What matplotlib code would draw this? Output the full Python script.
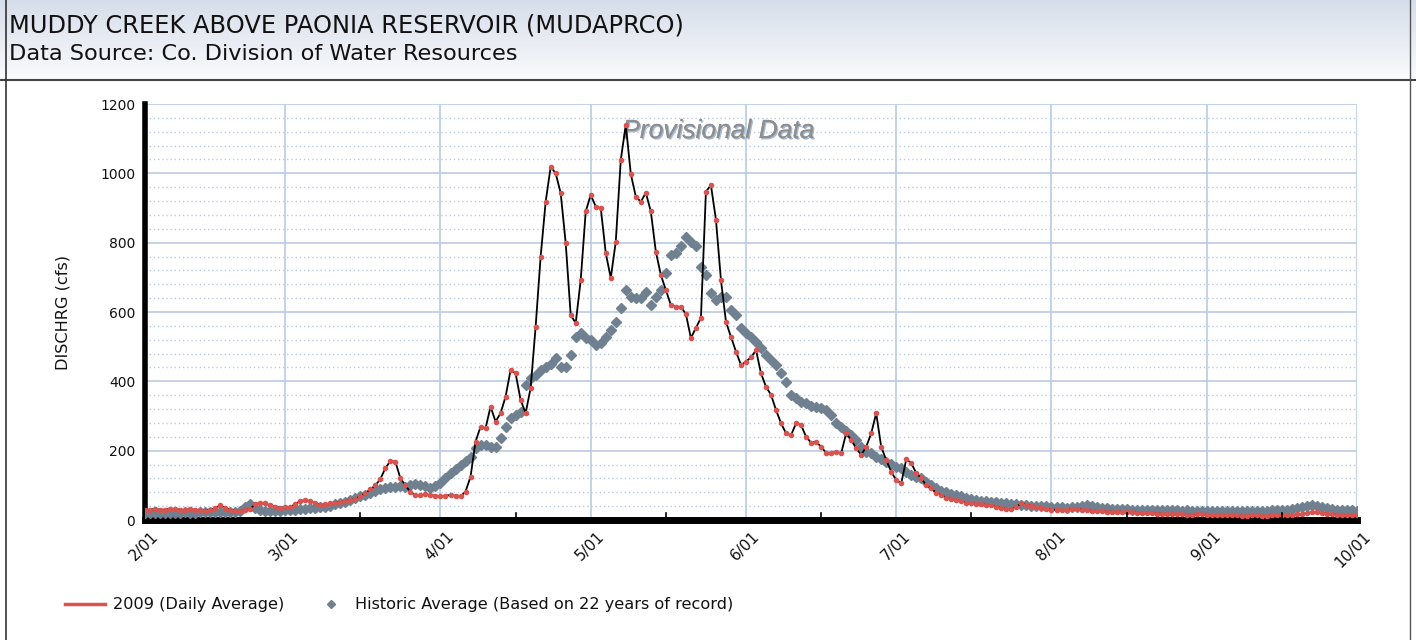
import numpy as np
import matplotlib
matplotlib.use("Agg")
import matplotlib.pyplot as plt
from matplotlib.lines import Line2D
import matplotlib.patheffects as pe

# ---------------- data ----------------
month_labels = ["2/01", "3/01", "4/01", "5/01", "6/01", "7/01", "8/01", "9/01", "10/01"]
month_days = [0, 28, 59, 89, 120, 150, 181, 212, 242]   # day offsets from 2/01
mid_month_days = [43, 74, 104, 135, 165, 196, 227]       # 16th of Mar..Sep

flow_2009_feb = [28, 30, 32, 30, 30, 33, 32, 30, 29, 31, 30, 28, 27, 30, 34, 42, 35, 30, 27, 26,
                 28, 32, 45, 50, 48, 42, 38, 36]
flow_2009_mar = [37, 38, 45, 55, 57, 55, 48, 44, 45, 48, 50, 52, 55, 58, 62, 68, 78, 88, 100, 118,
                 150, 170, 168, 120, 100, 80, 72, 72, 74, 72, 70]
flow_2009_apr = [68, 70, 72, 70, 68, 82, 125, 226, 269, 265, 327, 284, 308, 356, 433, 423, 346, 308,
                 381, 558, 760, 918, 1019, 1000, 943, 799, 591, 568, 692, 890]
flow_2009_may = [938, 904, 900, 770, 698, 803, 1039, 1140, 998, 933, 918, 944, 890, 774, 707, 664,
                 620, 615, 615, 594, 525, 554, 583, 947, 966, 866, 692, 572, 528, 486, 447]
flow_2009_jun = [457, 469, 490, 423, 384, 361, 317, 279, 250, 245, 279, 274, 240, 223, 226, 211,
                 194, 192, 197, 192, 250, 231, 207, 188, 211, 250, 308, 211, 173, 139]
flow_2009_jul = [115, 106, 175, 164, 135, 120, 100, 91, 78, 72, 64, 60, 57, 54, 50, 48, 47, 46, 44,
                 42, 38, 35, 33, 31, 38, 48, 44, 40, 37, 34, 31]
flow_2009_aug = [30, 29, 28, 29, 31, 32, 30, 28, 27, 26, 25, 24, 24, 23, 24, 22, 22, 21, 20, 20,
                 19, 18, 18, 17, 17, 16, 16, 15, 15, 16, 16]
flow_2009_sep = [15, 14, 14, 13, 13, 14, 13, 12, 12, 13, 13, 12, 12, 13, 14, 14, 13, 14, 16, 18,
                 20, 22, 22, 21, 18, 16, 15, 14, 14, 13, 14]

hist_feb = [20, 20, 21, 21, 20, 20, 21, 21, 22, 21, 21, 22, 22, 22, 23, 23, 22, 22, 23, 26,
            38, 45, 35, 28, 27, 27, 26, 27]
hist_mar = [28, 29, 30, 31, 33, 34, 35, 37, 38, 41, 45, 49, 53, 58, 63, 68, 73, 78, 83, 88,
            92, 95, 96, 97, 96, 100, 104, 102, 98, 92, 98]
hist_apr = [106, 120, 135, 148, 159, 171, 183, 207, 216, 215, 212, 210, 236, 269, 293, 303, 312,
            389, 409, 418, 433, 442, 450, 466, 442, 442, 476, 529, 539, 525]
hist_may = [519, 505, 511, 529, 548, 572, 611, 664, 644, 640, 640, 659, 620, 644, 664, 712, 765,
            771, 789, 817, 803, 789, 731, 707, 654, 635, 644, 644, 606, 591, 555]
hist_jun = [539, 529, 514, 495, 476, 462, 447, 423, 399, 361, 351, 341, 337, 329, 327, 322, 317,
            303, 279, 269, 258, 245, 231, 211, 197, 192, 183, 175, 168, 162]
hist_jul = [154, 149, 139, 130, 125, 120, 110, 100, 93, 85, 80, 76, 72, 68, 64, 60, 58, 56, 54,
            53, 51, 50, 48, 47, 45, 43, 42, 41, 40, 40, 39]
hist_aug = [38, 37, 37, 36, 37, 38, 40, 42, 40, 37, 36, 35, 33, 32, 31, 31, 30, 30, 29, 29,
            29, 28, 28, 29, 28, 28, 27, 28, 27, 27, 27]
hist_sep = [27, 27, 26, 27, 26, 26, 27, 26, 26, 27, 26, 27, 27, 28, 28, 29, 30, 32, 35, 38,
            40, 42, 41, 38, 34, 31, 30, 29, 28, 28, 27]

flow_2009 = (flow_2009_feb + flow_2009_mar + flow_2009_apr + flow_2009_may + flow_2009_jun
             + flow_2009_jul + flow_2009_aug + flow_2009_sep)
hist_avg = hist_feb + hist_mar + hist_apr + hist_may + hist_jun + hist_jul + hist_aug + hist_sep
days = np.arange(len(flow_2009))
hdays = np.arange(len(hist_avg))

title = "MUDDY CREEK ABOVE PAONIA RESERVOIR (MUDAPRCO)"
subtitle = "Data Source: Co. Division of Water Resources"
ylabel = "DISCHRG (cfs)"
legend_2009 = "2009 (Daily Average)"
legend_hist = "Historic Average (Based on 22 years of record)"
watermark = "Provisional Data"

# ---------------- figure ----------------
W, H = 1416, 640
fig = plt.figure(figsize=(W / 100, H / 100), dpi=100)
fig.patch.set_facecolor("white")
FONT = "DejaVu Sans"
TXT = "#111111"

# header with gradient
hdr = fig.add_axes([0, 1 - 80 / H, 1, 80 / H])
grad = np.linspace(0, 1, 100).reshape(-1, 1)
top_c = np.array([0.84, 0.87, 0.92])
bot_c = np.array([0.98, 0.985, 0.99])
img = top_c + (bot_c - top_c) * grad[:, :, None] * np.ones((1, 2, 1))
hdr.imshow(img, aspect="auto", extent=[0, 1, 0, 1], origin="upper")
hdr.set_xlim(0, 1); hdr.set_ylim(0, 1)
hdr.axis("off")
hdr.text(9 / W, 1 - 25 / 80, title, fontsize=17.4, family=FONT, color=TXT, va="center", ha="left")
hdr.text(9 / W, 1 - 54 / 80, subtitle, fontsize=16.1, family=FONT, color=TXT, va="center", ha="left")

# borders
fig.add_artist(Line2D([0, 1], [1 - 79.5 / H, 1 - 79.5 / H], color="#444444", lw=1.5))
fig.add_artist(Line2D([6 / W, 6 / W], [0, 1], color="#333333", lw=1.2))
fig.add_artist(Line2D([1410 / W, 1410 / W], [0, 1], color="#555555", lw=1.0))

# main axes
L, R, B, T = 145, 1357, 520, 104
ax = fig.add_axes([L / W, 1 - B / H, (R - L) / W, (B - T) / H])
ax.set_xlim(0, 242)
ax.set_ylim(0, 1200)

grid_c = "#b9cbe3"
ax.set_xticks(month_days)
ax.set_xticklabels([])
ax.set_yticks(np.arange(0, 1201, 200))
ax.set_yticks(np.arange(0, 1201, 40), minor=True)
ax.grid(which="major", axis="both", color=grid_c, lw=1.2, ls="-")
ax.grid(which="minor", axis="y", color=grid_c, lw=1.0, ls=(0, (1, 2)))
ax.set_axisbelow(True)
ax.tick_params(axis="x", which="major", length=0)
ax.tick_params(axis="y", which="both", length=0, labelsize=10, pad=7)
for lab in ax.get_yticklabels():
    lab.set_family(FONT)
    lab.set_color(TXT)

# mid-month tick marks pointing upward
for d in mid_month_days:
    ax.plot([d, d], [0, 20], color="black", lw=1.2, clip_on=False, zorder=5)

for s in ["top", "right"]:
    ax.spines[s].set_visible(False)
ax.spines["left"].set_linewidth(4)
ax.spines["bottom"].set_linewidth(5)
ax.spines["left"].set_color("black")
ax.spines["bottom"].set_color("black")

# data
ax.plot(hdays, hist_avg, ls="none", marker="D", ms=4.6, color="#6f8190", mec="#6f8190", zorder=3)
ax.plot(days, flow_2009, color="black", lw=1.3, zorder=4)
ax.plot(days, flow_2009, ls="none", marker="o", ms=3.0, color="#d9534f", mec="#d9534f", zorder=4.5)

# x tick labels rotated
for d, lab in zip(month_days, month_labels):
    ax.text(d + 1.2, -26, lab, rotation=45, ha="right", va="top", rotation_mode="anchor",
            fontsize=11, family=FONT, color=TXT)

ax.set_ylabel(ylabel, fontsize=11.6, family=FONT, labelpad=21, color=TXT)

# watermark
ax.text(0.473, 0.935, watermark, transform=ax.transAxes, fontsize=19, style="italic",
        family="Liberation Sans", color="#8e8e8e", ha="center", va="center",
        path_effects=[pe.withSimplePatchShadow(offset=(1, -1), shadow_rgbFace="#9fb3d0", alpha=0.9),
                      pe.Normal()])

# legend
ly = 1 - 604 / H
fig.add_artist(Line2D([65 / W, 105 / W], [ly, ly], color="#d9534f", lw=2.5))
fig.text(113 / W, ly, legend_2009, fontsize=11.6, family=FONT, va="center", ha="left", color=TXT)
fig.add_artist(Line2D([331 / W], [ly], marker="D", ms=4, color="#6f8190", ls="none"))
fig.text(355 / W, ly, legend_hist, fontsize=11.6, family=FONT, va="center", ha="left", color=TXT)

fig.savefig("out.png", dpi=100)
